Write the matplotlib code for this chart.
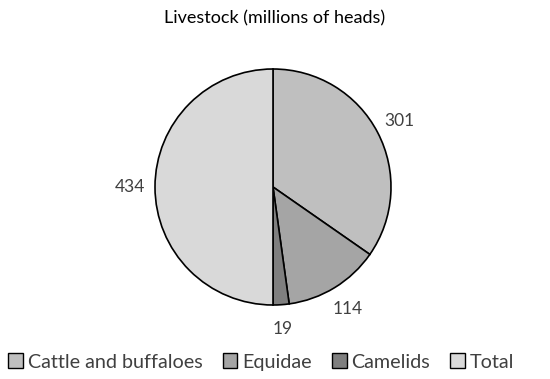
import matplotlib
matplotlib.use("Agg")
import matplotlib.pyplot as plt
from matplotlib.patches import Patch

categories = ["Cattle and buffaloes", "Equidae", "Camelids", "Total"]
values = [301, 114, 19, 434]
colors = ["#bfbfbf", "#a5a5a5", "#7f7f7f", "#d9d9d9"]
title = "Livestock (millions of heads)"

plt.rcParams['font.family'] = ['Lato', 'DejaVu Sans']

fig = plt.figure(figsize=(5.5, 3.79), dpi=100)
cx, cy, r = 273, 187, 118
ax = fig.add_axes([(cx - r) / 550, (379 - cy - r) / 379, 2 * r / 550, 2 * r / 379])
wedges, texts = ax.pie(values, colors=colors, startangle=90, counterclock=False,
                       labels=[str(v) for v in values], labeldistance=1.21,
                       wedgeprops=dict(edgecolor="black", linewidth=1.2),
                       textprops=dict(color="#404040", fontsize=12.5))
for t in texts:
    t.set_horizontalalignment("center")
    t.set_verticalalignment("center")
    t.set_clip_on(False)
ax.set_xlim(-1.0, 1.0)
ax.set_ylim(-1.0, 1.0)
ax.set_aspect("equal")

fig.text(0.5, 1 - 18 / 379, title, ha="center", va="center", fontsize=13, color="#000000")

handles = [Patch(facecolor=c, edgecolor="black", linewidth=1) for c in colors]
fig.legend(handles, categories, loc="center", bbox_to_anchor=(0.475, 1 - 362 / 379), ncol=4,
           frameon=False, fontsize=14.2, handlelength=0.75, handleheight=0.75,
           handletextpad=0.25, columnspacing=1.0, labelcolor="#404040")

fig.savefig("out.png", dpi=100)
